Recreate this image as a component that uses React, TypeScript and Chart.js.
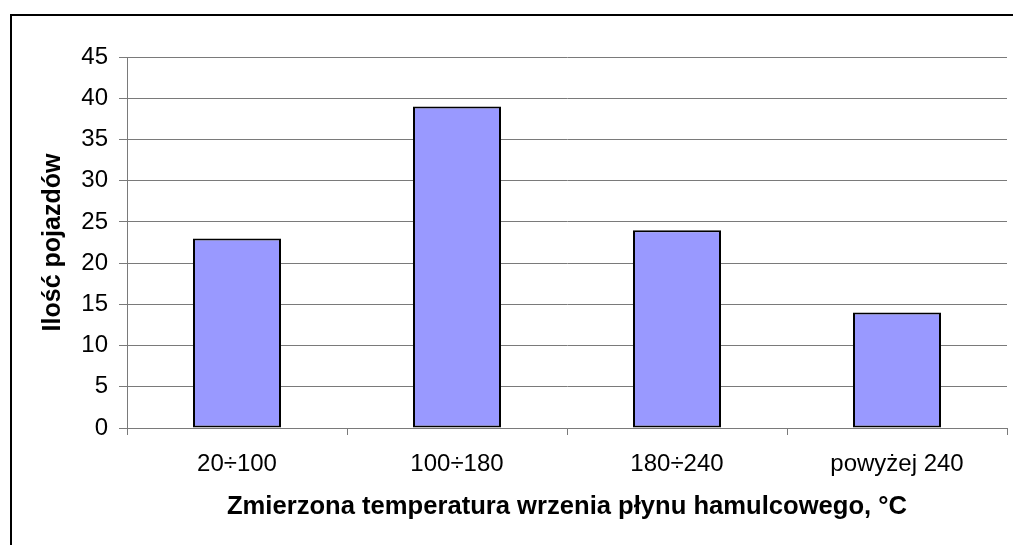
import React, { useEffect, useRef } from "react";
import { Chart, registerables } from "chart.js";

Chart.register(...registerables);

const categories = ["20÷100", "100÷180", "180÷240", "powyżej 240"];
const vehicleCounts = [23, 39, 24, 14];
const yTickMax = 45;
const yTickStep = 5;
const xTitle = "Zmierzona temperatura wrzenia płynu hamulcowego, °C";
const yTitle = "Ilość pojazdów";

const FONT = "'Liberation Sans', Arial, sans-serif";
const GRID = "#7a7a7a";

export default function App() {
  const ref = useRef<HTMLCanvasElement | null>(null);

  useEffect(() => {
    if (!ref.current) return;
    const chart = new Chart(ref.current, {
      type: "bar",
      data: {
        labels: categories,
        datasets: [
          {
            data: vehicleCounts,
            backgroundColor: "#9999FF",
            borderColor: "#000000",
            borderWidth: 2,
            borderSkipped: false,
            categoryPercentage: 1,
            barPercentage: 0.4,
          },
        ],
      },
      options: {
        responsive: false,
        animation: false,
        layout: { padding: { left: 0, top: 57, right: 6, bottom: 0 } },
        plugins: {
          legend: { display: false },
          tooltip: { enabled: false },
        },
        scales: {
          x: {
            afterFit: (s: any) => {
              s.height = 117;
            },
            grid: {
              offset: true,
              drawOnChartArea: false,
              drawTicks: true,
              tickLength: 7,
              color: GRID,
              lineWidth: 1,
            },
            border: { display: true, color: GRID, width: 1 },
            ticks: {
              color: "#000",
              padding: 15,
              font: { family: FONT, size: 24 },
              maxRotation: 0,
              autoSkip: false,
            },
            title: {
              display: true,
              text: xTitle,
              color: "#000",
              font: { family: FONT, size: 25.6, weight: "bold" },
              padding: { top: 0, bottom: 22.5 },
            },
          },
          y: {
            min: 0,
            max: yTickMax,
            afterFit: (s: any) => {
              s.width = 127;
            },
            grid: {
              drawTicks: true,
              tickLength: 8,
              color: GRID,
              lineWidth: 1,
            },
            border: { display: true, color: GRID, width: 1 },
            ticks: {
              stepSize: yTickStep,
              color: "#000",
              padding: 11,
              font: { family: FONT, size: 24 },
            },
            title: {
              display: true,
              text: yTitle,
              color: "#000",
              font: { family: FONT, size: 25, weight: "bold" },
              padding: { top: 38, bottom: 0 },
            },
          },
        },
      },
    });
    return () => chart.destroy();
  }, []);

  return (
    <div
      style={{
        position: "fixed",
        left: 0,
        top: 0,
        width: 1013,
        height: 545,
        background: "#fff",
        overflow: "hidden",
      }}
    >
      <div
        style={{
          position: "absolute",
          left: 10,
          top: 14,
          width: 1020,
          height: 560,
          borderLeft: "2px solid #000",
          borderTop: "2px solid #000",
          boxSizing: "border-box",
        }}
      />
      <canvas
        ref={ref}
        width={1013}
        height={545}
        style={{ position: "absolute", left: 0, top: 0, width: 1013, height: 545 }}
      />
    </div>
  );
}
